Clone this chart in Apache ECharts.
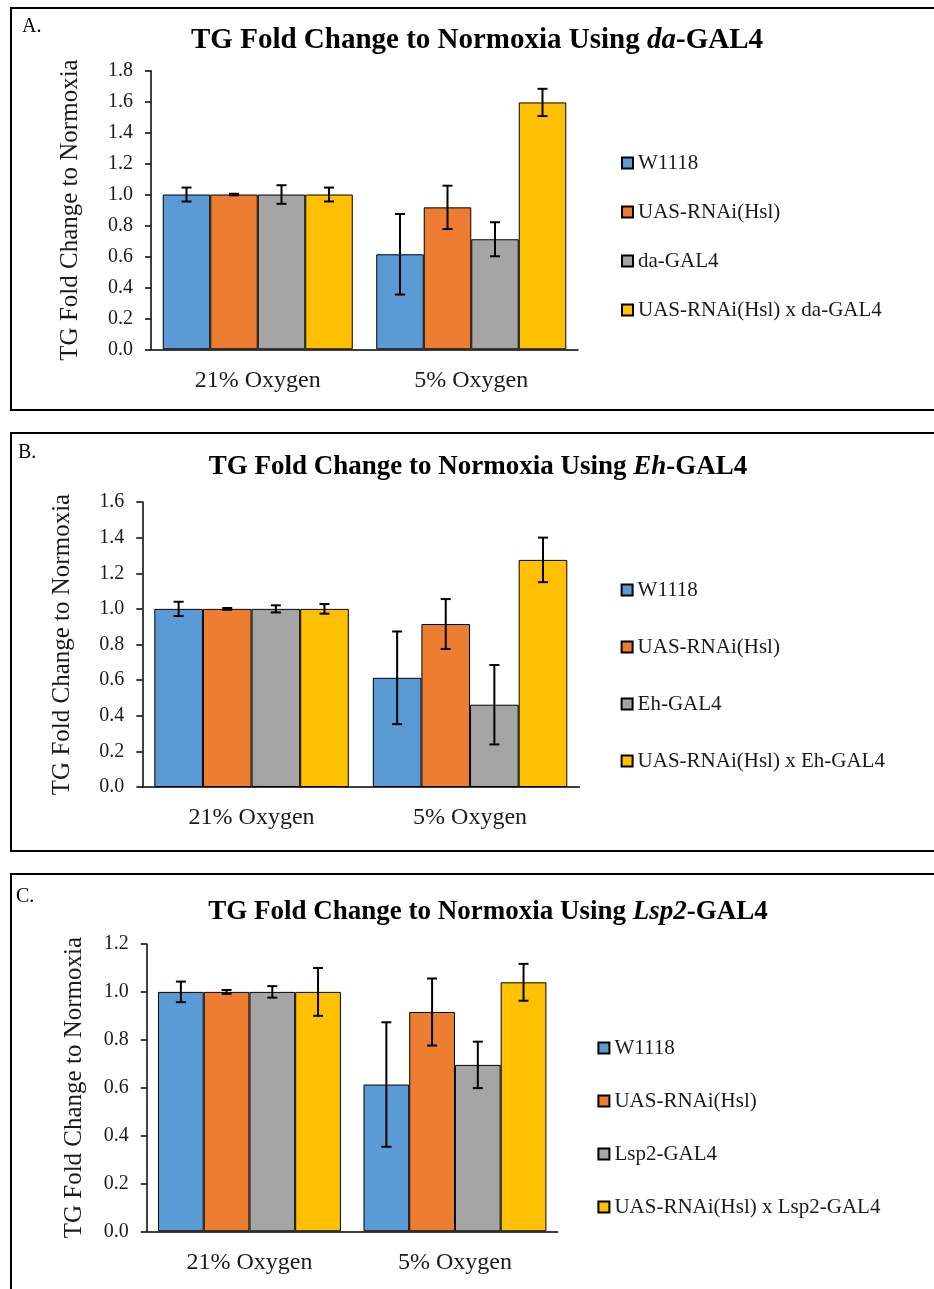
<!DOCTYPE html>
<html>
<head>
<meta charset="utf-8">
<script src="https://cdn.jsdelivr.net/npm/echarts@6/dist/echarts.min.js"></script>
<style>
  html, body { margin: 0; padding: 0; background: #fff; }
  #chart { position: absolute; left: 0; top: 0; width: 934px; height: 1289px; }
  .box { position: absolute; border: 2px solid #000; box-sizing: border-box; pointer-events: none; }
</style>
</head>
<body>
<div id="chart"></div>
<div class="box" style="left:10px;top:7px;width:940px;height:404px;"></div>
<div class="box" style="left:10px;top:432px;width:940px;height:420px;"></div>
<div class="box" style="left:10px;top:873px;width:940px;height:430px;"></div>
<script>
// shared
const categories = ['21% Oxygen', '5% Oxygen'];
const colors = ['#5B9BD5', '#ED7D31', '#A5A5A5', '#FFC000'];

// panel A (da-GAL4)
const namesA = ['W1118', 'UAS-RNAi(Hsl)', 'da-GAL4', 'UAS-RNAi(Hsl) x da-GAL4'];
const meansA = [[1.0, 0.614], [1.0, 0.917], [1.0, 0.711], [1.0, 1.595]];
const errsA = [[0.045, 0.26], [0.005, 0.14], [0.06, 0.11], [0.045, 0.088]];
const yMaxA = 1.8;

// panel B (Eh-GAL4)
const namesB = ['W1118', 'UAS-RNAi(Hsl)', 'Eh-GAL4', 'UAS-RNAi(Hsl) x Eh-GAL4'];
const meansB = [[1.0, 0.613], [1.0, 0.915], [1.0, 0.462], [1.0, 1.275]];
const errsB = [[0.04, 0.26], [0.005, 0.14], [0.02, 0.223], [0.027, 0.125]];
const yMaxB = 1.6;

// panel C (Lsp2-GAL4)
const namesC = ['W1118', 'UAS-RNAi(Hsl)', 'Lsp2-GAL4', 'UAS-RNAi(Hsl) x Lsp2-GAL4'];
const meansC = [[1.0, 0.613], [1.0, 0.916], [1.0, 0.695], [1.0, 1.04]];
const errsC = [[0.043, 0.26], [0.008, 0.14], [0.024, 0.097], [0.10, 0.077]];
const yMaxC = 1.2;

const driversList = ['da', 'Eh', 'Lsp2'];
const letters = ['A.', 'B.', 'C.'];

const panels = [
  { names: namesA, means: meansA, errs: errsA, yMax: yMaxA,
    grid: { left: 151, top: 70.7, width: 427, height: 278.6 },
    title: { x: 477, y: 26, size: 29 }, letter: { x: 22, y: 17 },
    nameGap: 68, legend: { left: 621, top: 152, gap: 27 } },
  { names: namesB, means: meansB, errs: errsB, yMax: yMaxB,
    grid: { left: 142.3, top: 502, width: 437, height: 285 },
    title: { x: 478, y: 454, size: 27 }, letter: { x: 18, y: 443 },
    nameGap: 67, legend: { left: 620.6, top: 579, gap: 35 } },
  { names: namesC, means: meansC, errs: errsC, yMax: yMaxC,
    grid: { left: 146.7, top: 944, width: 411, height: 287.3 },
    title: { x: 488, y: 899, size: 27 }, letter: { x: 16, y: 887 },
    nameGap: 60, legend: { left: 597.4, top: 1037, gap: 31 } }
];

const FONT = 'Liberation Serif';
const TXT = '#1a1a1a';
const GAP = 0.11;

const chart = echarts.init(document.getElementById('chart'));

const option = {
  animation: false,
  color: colors,
  title: [], legend: [], grid: [], xAxis: [], yAxis: [], series: []
};

panels.forEach((p, pi) => {
  option.grid.push(p.grid);
  option.title.push({
    text: '{b|TG Fold Change to Normoxia Using }{bi|' + driversList[pi] + '}{b|-GAL4}',
    left: p.title.x, top: p.title.y, textAlign: 'center', padding: 0,
    textStyle: {
      rich: {
        b: { fontFamily: FONT, fontWeight: 'bold', fontSize: p.title.size, lineHeight: p.title.size, color: '#000' },
        bi: { fontFamily: FONT, fontWeight: 'bold', fontStyle: 'italic', fontSize: p.title.size, lineHeight: p.title.size, color: '#000' }
      }
    }
  });
  option.title.push({
    text: letters[pi], left: p.letter.x, top: p.letter.y, padding: 0,
    textStyle: { fontFamily: FONT, fontWeight: 'normal', fontSize: 20, color: '#000' }
  });
  option.legend.push({
    data: p.names,
    orient: 'vertical',
    left: p.legend.left, top: p.legend.top,
    padding: 0,
    itemGap: p.legend.gap,
    itemWidth: 11, itemHeight: 11,
    icon: 'rect',
    selectedMode: false,
    textStyle: { fontFamily: FONT, fontSize: 21, lineHeight: 22, color: TXT }
  });
  option.xAxis.push({
    type: 'category', gridIndex: pi, data: categories,
    axisLine: { lineStyle: { color: '#000', width: 1.5 } },
    axisTick: { length: 7, lineStyle: { color: '#000', width: 1.5 } },
    axisLabel: { fontFamily: FONT, fontSize: 24, color: TXT, margin: 19 }
  });
  option.yAxis.push({
    type: 'value', gridIndex: pi, min: 0, max: p.yMax, interval: 0.2,
    name: 'TG Fold Change to Normoxia', nameLocation: 'middle', nameGap: p.nameGap,
    nameTextStyle: { fontFamily: FONT, fontSize: 25, color: TXT },
    axisLine: { show: true, lineStyle: { color: '#000', width: 1.5 } },
    axisTick: { show: true, length: 6, lineStyle: { color: '#000', width: 1.5 } },
    splitLine: { show: false },
    axisLabel: { fontFamily: FONT, fontSize: 20, color: TXT, margin: 18,
      formatter: v => v.toFixed(1) }
  });
  p.names.forEach((n, si) => {
    option.series.push({
      name: n, type: 'bar', xAxisIndex: pi, yAxisIndex: pi,
      data: p.means[si],
      barGap: '0%', barCategoryGap: (GAP * 100) + '%',
      itemStyle: { color: colors[si], borderColor: '#000', borderWidth: 1 }
    });
  });
  // error bars
  const errData = [];
  p.names.forEach((n, si) => {
    p.means[si].forEach((m, ci) => {
      errData.push([ci, m - p.errs[si][ci], m + p.errs[si][ci], si]);
    });
  });
  option.series.push({
    type: 'custom', xAxisIndex: pi, yAxisIndex: pi, z: 10,
    data: errData,
    encode: { x: 0, y: [1, 2] },
    renderItem: function (params, api) {
      const ci = api.value(0), lo = api.value(1), hi = api.value(2), si = api.value(3);
      const band = api.size([1, 0])[0];
      const barW = band * (1 - GAP) / 4;
      const cx = api.coord([ci, 0])[0] + (si - 1.5) * barW;
      const yt = api.coord([ci, hi])[1];
      const yb = api.coord([ci, lo])[1];
      const hw = 5;
      const st = { stroke: '#000', lineWidth: 2 };
      return {
        type: 'group',
        children: [
          { type: 'line', shape: { x1: cx, y1: yt, x2: cx, y2: yb }, style: st },
          { type: 'line', shape: { x1: cx - hw, y1: yt, x2: cx + hw, y2: yt }, style: st },
          { type: 'line', shape: { x1: cx - hw, y1: yb, x2: cx + hw, y2: yb }, style: st }
        ]
      };
    }
  });
});

chart.setOption(option);
</script>
</body>
</html>
